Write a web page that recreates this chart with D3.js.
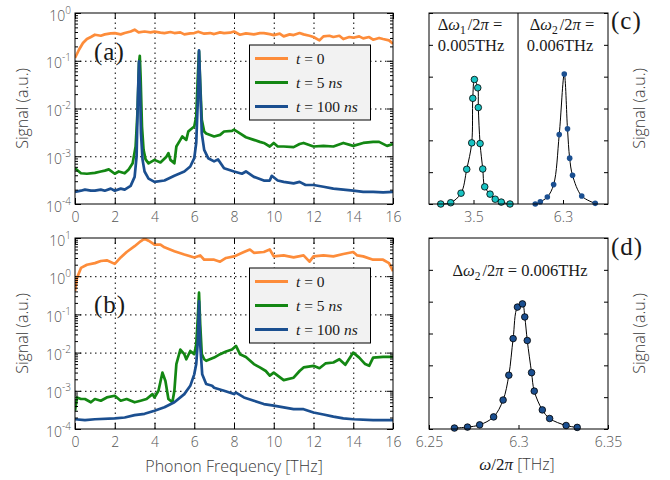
<!DOCTYPE html>
<html><head><meta charset="utf-8">
<script src="https://cdn.jsdelivr.net/npm/d3@7"></script>
<style>
body{margin:0;background:#fff}
.tick text{font-family:"Open Sans",sans-serif;font-size:14px;fill:#555;font-weight:300}
.lab{font-family:"Open Sans",sans-serif;font-size:16px;fill:#3a3a3a;font-weight:300}
.ser{font-family:"Liberation Serif",serif;fill:#1a1a1a}
</style></head>
<body><svg id="chart" width="670" height="480"></svg>
<script>
// ---------- data ----------
const xTicks = [0,2,4,6,8,10,12,14,16];
const xGrid = [2,4,6,8,10,12,14];
const expA = [-4,-3,-2,-1,0];
const expB = [-4,-3,-2,-1,0,1];
const seriesNames = ["t0","t5","t100"];

const aT0 = [[0,0.114],[0.2,0.17],[0.4,0.235],[0.6,0.285],[0.8,0.314],[1.0,0.351],[1.3,0.334],[1.5,0.357],[1.8,0.375],[2.0,0.38],[2.3,0.357],[2.5,0.38],[2.8,0.41],[3.0,0.447],[3.2,0.393],[3.5,0.41],[3.8,0.393],[4.0,0.406],[4.3,0.387],[4.5,0.38],[4.8,0.40],[5.0,0.38],[5.3,0.393],[5.5,0.357],[5.8,0.375],[6.0,0.38],[6.2,0.406],[6.5,0.369],[6.8,0.38],[7.0,0.362],[7.3,0.393],[7.5,0.38],[7.8,0.387],[8.0,0.41],[8.3,0.351],[8.6,0.375],[9.0,0.357],[9.3,0.38],[9.5,0.38],[9.8,0.362],[10.0,0.345],[10.3,0.369],[10.5,0.324],[10.8,0.357],[11.0,0.345],[11.3,0.38],[11.5,0.357],[11.8,0.334],[12.0,0.314],[12.3,0.267],[12.5,0.324],[12.8,0.334],[13.0,0.314],[13.3,0.334],[13.5,0.285],[13.8,0.314],[14.0,0.304],[14.3,0.324],[14.5,0.294],[14.8,0.314],[15.0,0.276],[15.3,0.30],[15.5,0.285],[15.8,0.267],[16.0,0.227]];
const aT5 = [[0,5.6e-4],[0.3,4.4e-4],[0.6,4.3e-4],[1.0,4.5e-4],[1.3,4.8e-4],[1.5,5.0e-4],[1.7,5.3e-4],[2.0,4.3e-4],[2.2,4.8e-4],[2.5,4.4e-4],[2.7,5.3e-4],[2.9,7.1e-4],[3.05,1.6e-3],[3.15,9.4e-3],[3.22,0.089],[3.26,0.127],[3.3,0.047],[3.37,4.2e-3],[3.45,1.36e-3],[3.55,8.6e-4],[3.7,7.1e-4],[4.0,8.4e-4],[4.3,7.4e-4],[4.6,9.8e-4],[4.7,1.16e-3],[4.8,8.4e-4],[5.0,7.1e-4],[5.1,1.6e-3],[5.3,2.2e-3],[5.4,2.6e-3],[5.6,2.2e-3],[5.7,3.3e-3],[5.8,3.6e-3],[6.0,4.2e-3],[6.1,6.8e-3],[6.18,0.047],[6.24,0.157],[6.3,0.034],[6.38,5.8e-3],[6.5,3.3e-3],[6.6,3.0e-3],[6.8,2.8e-3],[7.0,2.6e-3],[7.3,2.8e-3],[7.5,3.3e-3],[7.9,3.4e-3],[8.0,3.6e-3],[8.3,3.0e-3],[8.6,2.5e-3],[9.0,2.2e-3],[9.3,2.0e-3],[9.5,1.9e-3],[9.8,1.6e-3],[10.0,1.9e-3],[10.2,1.6e-3],[10.5,1.6e-3],[11.0,1.55e-3],[11.3,1.8e-3],[11.5,1.9e-3],[12.0,1.6e-3],[12.5,1.65e-3],[13.0,1.6e-3],[13.5,1.9e-3],[14.0,1.65e-3],[14.5,1.9e-3],[15.0,2.0e-3],[15.3,2.0e-3],[15.7,1.65e-3],[16.0,1.8e-3]];
const aT100 = [[0,1.8e-4],[0.3,1.9e-4],[0.5,2.0e-4],[0.8,1.9e-4],[1.0,1.9e-4],[1.3,2.0e-4],[1.5,1.9e-4],[1.8,2.1e-4],[2.0,1.9e-4],[2.3,2.1e-4],[2.5,2.0e-4],[2.8,2.4e-4],[3.0,3.7e-4],[3.1,1.0e-3],[3.16,0.015],[3.22,0.097],[3.27,0.029],[3.32,3.0e-3],[3.4,8.4e-4],[3.5,4.8e-4],[3.7,3.4e-4],[4.0,2.9e-4],[4.5,3.1e-4],[5.0,3.9e-4],[5.5,4.8e-4],[5.8,6.1e-4],[6.0,9.1e-4],[6.1,1.9e-3],[6.18,0.015],[6.24,0.165],[6.3,0.029],[6.38,3.0e-3],[6.5,1.36e-3],[6.7,9.1e-4],[7.0,7.8e-4],[7.2,8.6e-4],[7.5,5.6e-4],[8.0,4.8e-4],[8.4,4.3e-4],[8.6,4.8e-4],[9.0,3.7e-4],[9.5,3.1e-4],[9.8,3.1e-4],[9.9,3.9e-4],[10.2,3.1e-4],[10.5,2.9e-4],[11.0,2.7e-4],[11.3,2.9e-4],[11.6,2.5e-4],[12.0,2.5e-4],[12.5,2.3e-4],[13.0,2.1e-4],[13.5,2.0e-4],[14.0,1.9e-4],[14.5,1.8e-4],[15.0,1.8e-4],[15.5,1.75e-4],[16.0,1.8e-4]];

const bT0 = [[0,0.41],[0.1,0.9],[0.3,1.65],[0.6,2.0],[1.0,2.2],[1.3,2.5],[1.6,2.6],[2.0,2.1],[2.3,3.1],[2.6,4.3],[3.0,6.1],[3.3,8.2],[3.5,9.6],[3.7,8.5],[4.0,6.7],[4.3,6.7],[4.5,5.7],[5.0,4.5],[5.5,3.7],[6.0,3.1],[6.3,3.5],[6.5,2.7],[7.0,2.7],[7.3,2.4],[7.6,3.0],[8.0,3.3],[8.5,4.3],[8.8,5.0],[9.0,4.1],[9.5,4.3],[9.8,5.0],[10.0,3.3],[10.5,3.5],[11.0,3.1],[11.5,3.5],[11.8,2.4],[12.0,3.3],[12.5,3.5],[13.0,3.3],[13.5,3.8],[14.0,4.3],[14.2,3.5],[14.5,3.3],[15.0,2.7],[15.5,2.7],[15.8,2.2],[16.0,1.35]];
const bT5 = [[0,3.0e-4],[0.1,6.7e-4],[0.3,6.1e-4],[0.5,6.1e-4],[0.8,5.0e-4],[1.0,6.1e-4],[1.3,5.5e-4],[1.6,6.7e-4],[2.0,7.4e-4],[2.3,5.5e-4],[2.6,6.1e-4],[3.0,5.0e-4],[3.3,5.5e-4],[3.6,6.1e-4],[3.9,8.2e-4],[4.0,6.7e-4],[4.2,1.0e-3],[4.4,3.0e-3],[4.55,1.8e-3],[4.7,6.1e-4],[4.9,5.0e-4],[5.0,1.0e-3],[5.1,5.0e-3],[5.3,1.2e-2],[5.5,9.1e-3],[5.6,6.7e-3],[5.8,1.1e-2],[6.0,9.1e-3],[6.1,1.65e-2],[6.18,0.082],[6.24,0.37],[6.3,0.055],[6.38,9.1e-3],[6.5,6.7e-3],[6.6,6.1e-3],[7.0,7.4e-3],[7.3,9.1e-3],[7.6,1.07e-2],[7.9,1.2e-2],[8.1,1.5e-2],[8.3,9.1e-3],[8.6,7.7e-3],[9.0,5.0e-3],[9.3,4.1e-3],[9.6,3.3e-3],[9.8,2.5e-3],[10.0,3.0e-3],[10.2,2.5e-3],[10.5,1.9e-3],[11.0,2.2e-3],[11.3,3.3e-3],[11.5,4.1e-3],[12.0,4.5e-3],[12.3,3.9e-3],[12.6,5.2e-3],[13.0,5.5e-3],[13.3,6.7e-3],[13.6,4.8e-3],[14.0,1.0e-2],[14.3,7.4e-3],[14.6,5.0e-3],[14.8,4.5e-3],[15.0,7.4e-3],[15.5,7.7e-3],[16.0,7.7e-3]];
const bT100 = [[0,1.8e-4],[0.5,1.7e-4],[1.0,1.8e-4],[2.0,1.9e-4],[2.5,2.0e-4],[3.0,2.3e-4],[3.5,2.5e-4],[4.0,3.0e-4],[4.5,3.7e-4],[5.0,5.0e-4],[5.5,8.2e-4],[5.8,1.35e-3],[6.0,2.7e-3],[6.1,5.0e-3],[6.18,2.0e-2],[6.24,0.22],[6.3,1.65e-2],[6.4,2.7e-3],[6.6,1.5e-3],[6.9,1.35e-3],[7.0,1.2e-3],[7.5,1.0e-3],[8.0,8.2e-4],[8.1,9.0e-4],[8.5,6.7e-4],[9.0,5.5e-4],[9.5,4.5e-4],[10.0,4.1e-4],[10.5,3.7e-4],[11.0,3.3e-4],[11.5,3.3e-4],[12.0,2.7e-4],[12.5,2.4e-4],[13.0,2.1e-4],[13.5,1.9e-4],[14.0,1.8e-4],[15.0,1.7e-4],[16.0,1.7e-4]];

const c1Pts = [[3.4816,0],[3.4872,0.04],[3.4930,0.34],[3.4962,1.09],[3.4990,1.92],[3.4996,3.32],[3.5005,3.91],[3.5024,3.65],[3.5027,3.03],[3.5037,1.9],[3.5052,1.1],[3.5063,0.54],[3.5093,0.31],[3.5122,0.15],[3.5156,0.06],[3.5205,0]];
const c2Pts = [[6.2846,0],[6.2874,0.07],[6.2913,0.22],[6.2948,0.61],[6.2979,2.18],[6.3007,4.08],[6.3025,2.36],[6.3037,1.44],[6.3053,0.9],[6.3104,0.25],[6.3179,0.02]];
const dPts = [[6.2642,0.03],[6.2715,0.06],[6.2783,0.13],[6.2861,0.38],[6.2914,0.91],[6.2946,1.69],[6.2970,2.84],[6.2994,3.83],[6.3022,3.93],[6.3035,3.52],[6.3049,2.78],[6.3073,1.77],[6.3088,1.19],[6.3133,0.60],[6.3174,0.33],[6.3266,0.11],[6.3328,0.05]];
const c1Ticks = [3.5], c2Ticks = [6.3], dTicks = [6.25,6.3,6.35];
const dTickLabels = ["6.25","6.3","6.35"];
const linTicks = [0,1,2,3,4,5,6];

// ---------- drawing ----------
const svg = d3.select("#chart");
const col = {t0:"#fd8c3a", t5:"#138713", t100:"#1b4f90"};
const L = 75, R = 393;

function cleanAxis(g){ g.select(".domain").remove(); g.selectAll(".tick line").attr("stroke","#000"); }

function mathT(sel, parts){
  parts.forEach(p=>{
    const t = sel.append("tspan").text(p.t);
    if(p.i) t.attr("font-style","italic");
    if(p.sub) t.attr("font-size","0.7em").attr("dy", 4);
    if(p.up) t.attr("dy", -4);
    if(p.dx) t.attr("dx", p.dx);
  });
}

function mainPanel(cfg){
  const {top,bottom,exps,data,id,letter,letterY,legY} = cfg;
  const x = d3.scaleLinear([0,16],[L,R]);
  const y = d3.scaleLog([Math.pow(10,exps[0]),Math.pow(10,exps[exps.length-1])],[bottom,top]);
  const g = svg.append("g");
  g.append("clipPath").attr("id","clip"+id).append("rect")
    .attr("x",L).attr("y",top).attr("width",R-L).attr("height",bottom-top);
  // grid
  g.append("g").attr("transform",`translate(0,${bottom})`)
    .call(d3.axisBottom(x).tickValues(xGrid).tickSize(-(bottom-top)).tickFormat(""))
    .call(cleanAxis).selectAll("line").attr("stroke-dasharray","1.5,3.5");
  g.append("g").attr("transform",`translate(${L},0)`)
    .call(d3.axisLeft(y).tickValues(exps.slice(1,-1).map(e=>Math.pow(10,e))).tickSize(-(R-L)).tickFormat(""))
    .call(cleanAxis).selectAll("line").attr("stroke-dasharray","1.5,3.5");
  // lines
  const line = d3.line().x(d=>x(d[0])).y(d=>y(d[1]));
  const lg = g.append("g").attr("clip-path",`url(#clip${id})`);
  seriesNames.forEach((s,i)=>{
    lg.append("path").datum(data[i]).attr("d",line).attr("fill","none")
      .attr("stroke",col[s]).attr("stroke-width",2.7).attr("stroke-linejoin","round");
  });
  // frame
  g.append("rect").attr("x",L).attr("y",top).attr("width",R-L).attr("height",bottom-top)
    .attr("fill","none").attr("stroke","#000").attr("stroke-width",1);
  // ticks
  g.append("g").attr("transform",`translate(0,${bottom})`)
    .call(d3.axisBottom(x).tickValues(xTicks).tickSize(-6).tickPadding(8).tickFormat(d3.format("d")))
    .call(cleanAxis);
  g.append("g").attr("transform",`translate(0,${top})`)
    .call(d3.axisTop(x).tickValues(xTicks).tickSize(-6).tickFormat("")).call(cleanAxis);
  const majors = exps.map(e=>Math.pow(10,e));
  const minors = [];
  exps.slice(0,-1).forEach(e=>{ for(let k=2;k<10;k++) minors.push(k*Math.pow(10,e)); });
  const la = g.append("g").attr("transform",`translate(${L},0)`)
    .call(d3.axisLeft(y).tickValues(majors).tickSize(-6).tickPadding(4).tickFormat(""))
    .call(cleanAxis);
  la.selectAll(".tick text").attr("dy","0.5em").each(function(d){
    const t = d3.select(this);
    const e = Math.round(Math.log10(d));
    t.append("tspan").text("10");
    t.append("tspan").text(e<0 ? "-"+(-e) : String(e)).attr("font-size","10px").attr("dy",-7);
  });
  g.append("g").attr("transform",`translate(${L},0)`)
    .call(d3.axisLeft(y).tickValues(minors).tickSize(-3).tickFormat("")).call(cleanAxis);
  g.append("g").attr("transform",`translate(${R},0)`)
    .call(d3.axisRight(y).tickValues(majors).tickSize(-6).tickFormat("")).call(cleanAxis);
  g.append("g").attr("transform",`translate(${R},0)`)
    .call(d3.axisRight(y).tickValues(minors).tickSize(-3).tickFormat("")).call(cleanAxis);
  // y label
  g.append("text").attr("class","lab").attr("text-anchor","middle")
    .attr("transform",`translate(28,${(top+bottom)/2}) rotate(-90)`).text("Signal (a.u.)");
  // panel letter
  g.append("text").attr("class","ser").attr("x",94).attr("y",letterY)
    .attr("font-size","25px").attr("letter-spacing","1px").text(letter);
  // legend
  const leg = g.append("g");
  leg.append("rect").attr("x",249.5).attr("y",legY).attr("width",121).attr("height",75)
    .attr("fill","#f2f2f2").attr("stroke","#000").attr("stroke-width",1);
  const labs = [
    [{t:"t",i:true},{t:" = 0"}],
    [{t:"t",i:true},{t:" = 5 "},{t:"ns",i:true}],
    [{t:"t",i:true},{t:" = 100 "},{t:"ns",i:true}]
  ];
  seriesNames.forEach((s,i)=>{
    const yy = legY + 13.5 + i*24;
    leg.append("line").attr("x1",255).attr("x2",288).attr("y1",yy).attr("y2",yy)
      .attr("stroke",col[s]).attr("stroke-width",3);
    const t = leg.append("text").attr("class","ser").attr("x",296).attr("y",yy+5).attr("font-size","15.5px");
    mathT(t, labs[i]);
  });
}

mainPanel({top:13,bottom:204,exps:expA,data:[aT0,aT5,aT100],id:"a",letter:"(a)",letterY:60,legY:45});
mainPanel({top:238,bottom:429,exps:expB,data:[bT0,bT5,bT100],id:"b",letter:"(b)",letterY:313,legY:268});

svg.append("text").attr("class","lab").attr("x",(L+R)/2).attr("y",472).attr("text-anchor","middle")
  .text("Phonon Frequency [THz]");

// ---- panel (c) ----
const CL = 429, CM = 518, CR = 608;
(function(){
  const top=13, bottom=204;
  const x1 = d3.scaleLinear([3.475,3.525],[CL,CM]);
  const x2 = d3.scaleLinear([6.275,6.325],[CM,CR]);
  const y = d3.scaleLinear([0,6],[bottom,top]);
  const g = svg.append("g");
  const fit = (x)=>d3.line().x(d=>x(d[0])).y(d=>y(d[1])).curve(d3.curveCatmullRom.alpha(0.5));
  g.append("path").datum(c1Pts).attr("d",fit(x1)).attr("fill","none").attr("stroke","#000").attr("stroke-width",1);
  g.append("path").datum(c2Pts).attr("d",fit(x2)).attr("fill","none").attr("stroke","#000").attr("stroke-width",1);
  g.selectAll(".p1").data(c1Pts).join("circle").attr("cx",d=>x1(d[0])).attr("cy",d=>y(d[1]))
    .attr("r",3.3).attr("fill","#19c3c3").attr("stroke","#000").attr("stroke-width",0.8);
  g.selectAll(".p2").data(c2Pts).join("circle").attr("cx",d=>x2(d[0])).attr("cy",d=>y(d[1]))
    .attr("r",2.8).attr("fill","#1b4f90");
  g.append("rect").attr("x",CL).attr("y",top).attr("width",CR-CL).attr("height",bottom-top)
    .attr("fill","none").attr("stroke","#000");
  g.append("line").attr("x1",CM).attr("x2",CM).attr("y1",top).attr("y2",bottom).attr("stroke","#000");
  g.append("g").attr("transform",`translate(${CL},0)`)
    .call(d3.axisLeft(y).tickValues(linTicks).tickSize(-4).tickFormat("")).call(cleanAxis);
  g.append("g").attr("transform",`translate(${CR},0)`)
    .call(d3.axisRight(y).tickValues(linTicks).tickSize(-4).tickFormat("")).call(cleanAxis);
  g.append("g").attr("transform",`translate(0,${bottom})`)
    .call(d3.axisBottom(x1).tickValues(c1Ticks).tickSize(-4).tickPadding(8).tickFormat(d3.format(".1f"))).call(cleanAxis);
  g.append("g").attr("transform",`translate(0,${bottom})`)
    .call(d3.axisBottom(x2).tickValues(c2Ticks).tickSize(-4).tickPadding(8).tickFormat(d3.format(".1f"))).call(cleanAxis);
  const t1 = g.append("text").attr("class","ser").attr("x",470).attr("y",30).attr("text-anchor","middle").attr("font-size","16.5px");
  mathT(t1,[{t:"Δ"},{t:"ω",i:true},{t:"1",sub:true},{t:"/2",up:true,dx:2},{t:"π",i:true},{t:" ="}]);
  g.append("text").attr("class","ser").attr("x",471).attr("y",51).attr("text-anchor","middle").attr("font-size","16.5px").text("0.005THz");
  const t2 = g.append("text").attr("class","ser").attr("x",562).attr("y",30).attr("text-anchor","middle").attr("font-size","16.5px");
  mathT(t2,[{t:"Δ"},{t:"ω",i:true},{t:"2",sub:true},{t:"/2",up:true,dx:2},{t:"π",i:true},{t:" ="}]);
  g.append("text").attr("class","ser").attr("x",560).attr("y",51).attr("text-anchor","middle").attr("font-size","16.5px").text("0.006THz");
  g.append("text").attr("class","ser").attr("x",611).attr("y",29).attr("font-size","25px").attr("letter-spacing","1px").text("(c)");
  g.append("text").attr("class","lab").attr("text-anchor","middle")
    .attr("transform",`translate(645,${(top+bottom)/2}) rotate(-90)`).text("Signal (a.u.)");
})();

// ---- panel (d) ----
(function(){
  const top=238, bottom=429;
  const x = d3.scaleLinear([6.25,6.35],[CL,CR]);
  const y = d3.scaleLinear([0,6],[bottom,top]);
  const g = svg.append("g");
  g.append("path").datum(dPts).attr("d",d3.line().x(d=>x(d[0])).y(d=>y(d[1])).curve(d3.curveCatmullRom.alpha(0.5)))
    .attr("fill","none").attr("stroke","#000").attr("stroke-width",1);
  g.selectAll(".pd").data(dPts).join("circle").attr("cx",d=>x(d[0])).attr("cy",d=>y(d[1]))
    .attr("r",3.3).attr("fill","#1b4f90").attr("stroke","#000").attr("stroke-width",0.8);
  g.append("rect").attr("x",CL).attr("y",top).attr("width",CR-CL).attr("height",bottom-top)
    .attr("fill","none").attr("stroke","#000");
  g.append("g").attr("transform",`translate(${CL},0)`)
    .call(d3.axisLeft(y).tickValues(linTicks).tickSize(-4).tickFormat("")).call(cleanAxis);
  g.append("g").attr("transform",`translate(${CR},0)`)
    .call(d3.axisRight(y).tickValues(linTicks).tickSize(-4).tickFormat("")).call(cleanAxis);
  g.append("g").attr("transform",`translate(0,${bottom})`)
    .call(d3.axisBottom(x).tickValues(dTicks).tickSize(-4).tickPadding(8).tickFormat((d,i)=>dTickLabels[i])).call(cleanAxis);
  const t = g.append("text").attr("class","ser").attr("x",520).attr("y",276).attr("text-anchor","middle").attr("font-size","16.5px");
  mathT(t,[{t:"Δ"},{t:"ω",i:true},{t:"2",sub:true},{t:"/2",up:true,dx:2},{t:"π",i:true},{t:" = 0.006THz"}]);
  g.append("text").attr("class","ser").attr("x",611).attr("y",255).attr("font-size","25px").attr("letter-spacing","1px").text("(d)");
  g.append("text").attr("class","lab").attr("text-anchor","middle")
    .attr("transform",`translate(645,${(top+bottom)/2}) rotate(-90)`).text("Signal (a.u.)");
  const xl = svg.append("text").attr("x",517).attr("y",470).attr("text-anchor","middle").attr("font-size","17px");
  xl.append("tspan").attr("class","ser").attr("font-style","italic").text("ω");
  xl.append("tspan").attr("class","ser").text("/2");
  xl.append("tspan").attr("class","ser").attr("font-style","italic").text("π");
  xl.append("tspan").attr("class","lab").text(" [THz]");
})();
</script></body></html>
